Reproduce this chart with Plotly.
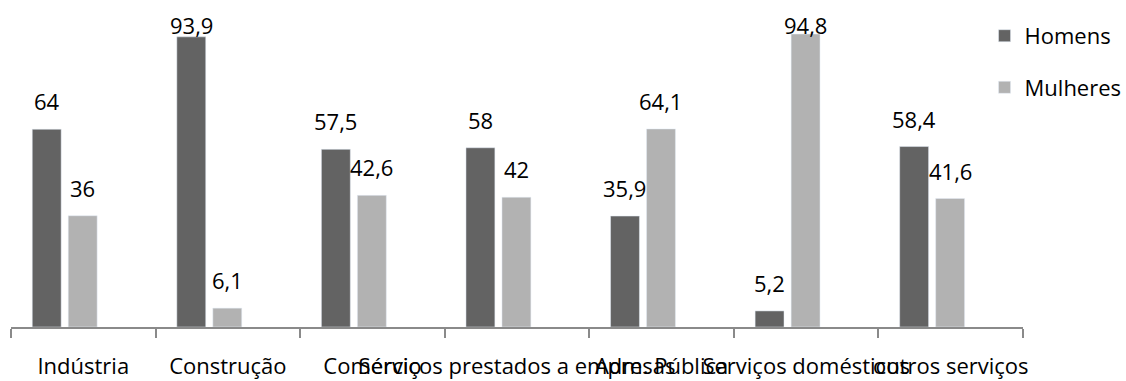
import plotly.graph_objects as go

categories = ["Indústria", "Construção", "Comércio", "Serviços prestados a empresas",
              "Adm. Pública", "Serviços domésticos", "outros serviços"]
homens = [64, 93.9, 57.5, 58, 35.9, 5.2, 58.4]
mulheres = [36, 6.1, 42.6, 42, 64.1, 94.8, 41.6]

DARK = "#636363"
LIGHT = "#b2b2b2"
FONT = "Open Sans"
BAR_W = 0.2
OFF_H = -0.353
OFF_M = -0.104


def fmt(v):
    return f"{v:g}".replace(".", ",")


fig = go.Figure()
fig.add_trace(go.Bar(x=categories, y=homens, name="Homens", marker_color=DARK,
                     width=BAR_W, offset=OFF_H, legendgroup="h"))
fig.add_trace(go.Bar(x=categories, y=mulheres, name="Mulheres", marker_color=LIGHT,
                     width=BAR_W, offset=OFF_M, legendgroup="m"))

annotations = []
for series, off in ((homens, OFF_H), (mulheres, OFF_M)):
    for i, v in enumerate(series):
        annotations.append(dict(
            x=i + off + BAR_W / 2, y=min(v + 5.8, 94.5), xref="x", yref="y",
            text=fmt(v), showarrow=False, yanchor="bottom", yshift=-7,
            font=dict(family=FONT, size=22, color="#000000")))

fig.update_layout(
    width=1126, height=381,
    margin=dict(l=11, r=103, t=18, b=54, autoexpand=False),
    paper_bgcolor="white", plot_bgcolor="white",
    barmode="overlay",
    font=dict(family=FONT, size=22, color="#000000"),
    showlegend=True,
    legend=dict(x=0.962, y=1.01, xanchor="left", yanchor="top",
                traceorder="grouped", tracegroupgap=20,
                font=dict(family=FONT, size=22, color="#000000"),
                bgcolor="rgba(0,0,0,0)"),
    annotations=annotations,
)
fig.update_xaxes(type="category", showline=True, linecolor="#8a8a8a", linewidth=1.5,
                 ticks="outside", tickson="boundaries", ticklen=9, tickcolor="#8a8a8a",
                 tickwidth=1.5, tickangle=0, showgrid=False, automargin=False,
                 ticklabelstandoff=19,
                 tickfont=dict(family=FONT, size=22, color="#000000"))
fig.update_yaxes(range=[0, 100], visible=False, showgrid=False, zeroline=False)

fig.write_html("out.html")
